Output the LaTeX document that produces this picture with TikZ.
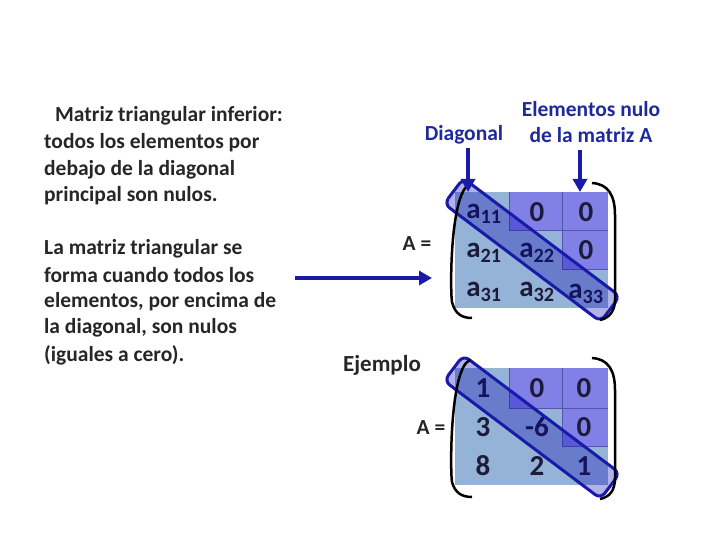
\documentclass[tikz,border=0pt]{standalone}
\usepackage{fontspec}
\setmainfont{Carlito}
\usetikzlibrary{arrows.meta}
\definecolor{lb}{HTML}{95B3D7}
\definecolor{pu}{HTML}{8080E6}
\definecolor{dk}{HTML}{6A6AD8}
\definecolor{bd}{HTML}{1A1AA8}
\definecolor{ink}{HTML}{1C1C3A}
\definecolor{tb}{HTML}{1F2A9A}
\tikzset{
  txt/.style={anchor=west,inner sep=0pt,font=\fontsize{21.5}{27}\selectfont\bfseries,text=black!85},
  ent/.style={font=\fontsize{29}{29}\selectfont\bfseries,text=ink,inner sep=0pt},
  barrow/.style={-{Triangle[length=13pt,width=14pt]},line width=3.5pt,color=bd},
  band/.style={draw=bd,line width=3pt,fill=blue!70!black,fill opacity=0.3,rounded corners=7pt},
  paren/.style={line width=2.5pt,black},
}
\begin{document}
\begin{tikzpicture}[x=1pt,y=-1pt]
\useasboundingbox (0,0) rectangle (720,540);
% left text
\node[txt] (t1) at (55,116) {Matriz triangular inferior:};
\node[txt] (t2) at (44,143) {todos los elementos por};
\node[txt] (t3) at (44,170) {debajo de la diagonal};
\node[txt] (t4) at (44,196) {principal son nulos.};
\node[txt] (t5) at (44,249) {La matriz triangular se};
\node[txt] (t6) at (44,275) {forma cuando todos los};
\node[txt] (t7) at (44,302) {elementos, por encima de};
\node[txt] (t8) at (44,328) {la diagonal, son nulos};
\node[txt] (t9) at (44,355) {(iguales a cero).};
% labels
\node[txt,anchor=center,text=tb] (dg) at (464,135) {Diagonal};
\node[txt,anchor=center,text=tb] (en1) at (591,109) {Elementos nulo};
\node[txt,anchor=center,text=tb] (en2) at (591,135) {de la matriz A};
\node[txt,anchor=center] (ej) at (382,365) {\fontsize{23}{23}\selectfont\bfseries Ejemplo};
\node[txt,anchor=center] (A1) at (417,244) {A =};
\node[txt,anchor=center] (A2) at (431,428) {A =};
% top matrix cells
\fill[lb] (455,192) rectangle (608,308);
\fill[pu] (509,192) rectangle (608,230);
\fill[pu] (562,230) rectangle (608,269);
\draw[dk!80!black,line width=0.5pt] (509,192) -- (509,230) -- (562,230) -- (562,192) (562,230)--(608,230) (562,230)--(562,269)--(608,269);
% bottom matrix cells
\fill[lb] (455,368) rectangle (608,485);
\fill[pu] (509,368) rectangle (608,408);
\fill[pu] (562,408) rectangle (608,446);
\draw[dk!80!black,line width=0.5pt] (509,368) -- (509,408) -- (562,408) -- (562,368) (562,408)--(608,408) (562,408)--(562,446)--(608,446);
% entries top
\node[ent] (a11) at (484,214) {a\textsubscript{11}};
\node[ent] (a12) at (537,212) {0};
\node[ent] (a13) at (586,212) {0};
\node[ent] (a21) at (484,253) {a\textsubscript{21}};
\node[ent] (a22) at (537,253) {a\textsubscript{22}};
\node[ent] (a23) at (586,250) {0};
\node[ent] (a31) at (484,292) {a\textsubscript{31}};
\node[ent] (a32) at (537,292) {a\textsubscript{32}};
\node[ent] (a33) at (586,294) {a\textsubscript{33}};
% entries bottom
\node[ent] (b11) at (483,388) {1};
\node[ent] (b12) at (537,388) {0};
\node[ent] (b13) at (584,388) {0};
\node[ent] (b21) at (483,427) {3};
\node[ent] (b22) at (537,427) {-6};
\node[ent] (b23) at (584,427) {0};
\node[ent] (b31) at (483,466) {8};
\node[ent] (b32) at (537,466) {2};
\node[ent] (b33) at (584,466) {1};
% bands
\begin{scope}[shift={(532,250)},rotate=-37]
\draw[band] (-98,-16) rectangle (98,16);
\end{scope}
\begin{scope}[shift={(532,427)},rotate=-37]
\draw[band] (-98,-16) rectangle (98,16);
\end{scope}
% parentheses
\draw[paren] (470,184) .. controls (450,192) and (450,290) .. (452,302) .. controls (455,314) and (462,318) .. (472,318);
\draw[paren] (592,183) .. controls (608,184) and (615,195) .. (615,215) -- (615,300) .. controls (615,310) and (610,318) .. (600,320);
\draw[paren] (470,360) .. controls (450,368) and (450,470) .. (452,482) .. controls (455,493) and (462,497) .. (472,497);
\draw[paren] (592,358) .. controls (608,359) and (615,370) .. (615,390) -- (615,478) .. controls (615,490) and (610,497) .. (600,499);
% arrows
\coordinate (d0) at (468,148); \coordinate (d1) at (468,192);
\coordinate (e0) at (580,150); \coordinate (e1) at (580,192);
\coordinate (h0) at (295,278); \coordinate (h1) at (432,278);
\draw[barrow] (d0) -- (d1);
\draw[barrow] (e0) -- (e1);
\draw[barrow] (h0) -- (h1);
\end{tikzpicture}
\end{document}
